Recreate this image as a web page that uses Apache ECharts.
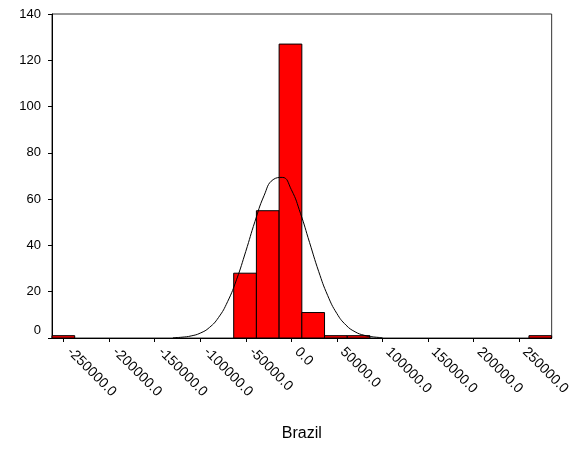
<!DOCTYPE html>
<html>
<head>
<meta charset="utf-8">
<script src="https://cdn.jsdelivr.net/npm/echarts@6/dist/echarts.min.js"></script>
<style>
  html, body { margin: 0; padding: 0; background: #fff; }
  #chart { width: 573px; height: 449px; }
</style>
</head>
<body>
<div id="chart"></div>
<script>
// Histogram of Brazil: 22 equal-width bins
const binStart = -262800;
const binWidth = 24940;
const binCounts = [1, 0, 0, 0, 0, 0, 0, 0, 28, 55, 127, 11, 1, 1, 0, 0, 0, 0, 0, 0, 0, 1];

// Fitted normal curve (expected frequency per bin)
const curveX = [-130000, -120000, -110000, -100000, -90000, -80000, -70000, -60000, -50000, -40000,
                -30000, -20000, -10000, 0, 10000, 20000, 30000, 40000, 50000, 60000, 70000, 80000, 90000, 100000];
const curveY = [0.12, 0.35, 0.90, 2.11, 4.52, 8.83, 15.69, 25.39, 37.44, 50.26,
                61.46, 68.43, 69.40, 64.10, 53.91, 41.30, 28.81, 18.31, 10.59, 5.58, 2.68, 1.17, 0.47, 0.17];

// Axis ticks
const xTicks = [-250000, -200000, -150000, -100000, -50000, 0, 50000, 100000, 150000, 200000, 250000];
const yTicks = [0, 20, 40, 60, 80, 100, 120, 140];
const xTitle = 'Brazil';

const bars = [];
binCounts.forEach((c, i) => {
  if (c > 0) bars.push([binStart + i * binWidth, binStart + (i + 1) * binWidth, c]);
});
const curve = curveX.map((x, i) => [x, curveY[i]]);
const xMin = binStart;
const xMax = binStart + binCounts.length * binWidth;

const font = '"Liberation Sans", Arial, sans-serif';
const chart = echarts.init(document.getElementById('chart'));
chart.setOption({
  animation: false,
  backgroundColor: '#fff',
  grid: { left: 52, right: 20, top: 14, bottom: 111, show: true, borderColor: '#333', borderWidth: 1, backgroundColor: 'transparent' },
  xAxis: {
    type: 'value',
    min: xMin,
    max: xMax,
    name: xTitle,
    nameLocation: 'middle',
    nameGap: 88,
    nameTextStyle: { fontFamily: font, fontSize: 16, color: '#000' },
    axisLine: { show: true, onZero: false, lineStyle: { color: '#000', width: 1 } },
    axisTick: { show: true, length: 4, lineStyle: { color: '#000' }, customValues: xTicks },
    axisLabel: {
      customValues: xTicks,
      rotate: -45,
      margin: 6,
      padding: [0, 0, 0, 8],
      fontFamily: font,
      fontSize: 14,
      color: '#000',
      formatter: v => v.toFixed(1)
    },
    splitLine: { show: false }
  },
  yAxis: {
    type: 'value',
    min: yTicks[0],
    max: yTicks[yTicks.length - 1],
    interval: 20,
    axisLine: { show: true, onZero: false, lineStyle: { color: '#000', width: 1 } },
    axisTick: { show: true, length: 4, lineStyle: { color: '#000' } },
    axisLabel: {
      margin: 11,
      fontFamily: font,
      fontSize: 13,
      color: '#000',
      formatter: v => (v === 0 ? '{z|0}' : String(v)),
      rich: { z: { fontFamily: font, fontSize: 13, color: '#000', padding: [0, 0, 16, 0] } }
    },
    splitLine: { show: false }
  },
  series: [
    {
      type: 'custom',
      data: bars,
      encode: { x: [0, 1], y: 2 },
      z: 2,
      renderItem: (params, api) => {
        const p0 = api.coord([api.value(0), api.value(2)]);
        const p1 = api.coord([api.value(1), 0]);
        return {
          type: 'rect',
          shape: { x: p0[0], y: p0[1], width: p1[0] - p0[0], height: p1[1] - p0[1] },
          style: { fill: '#ff0000', stroke: '#000', lineWidth: 1 }
        };
      }
    },
    {
      type: 'line',
      data: curve,
      smooth: true,
      showSymbol: false,
      z: 3,
      lineStyle: { color: '#000', width: 1 }
    }
  ]
});
</script>
</body>
</html>
